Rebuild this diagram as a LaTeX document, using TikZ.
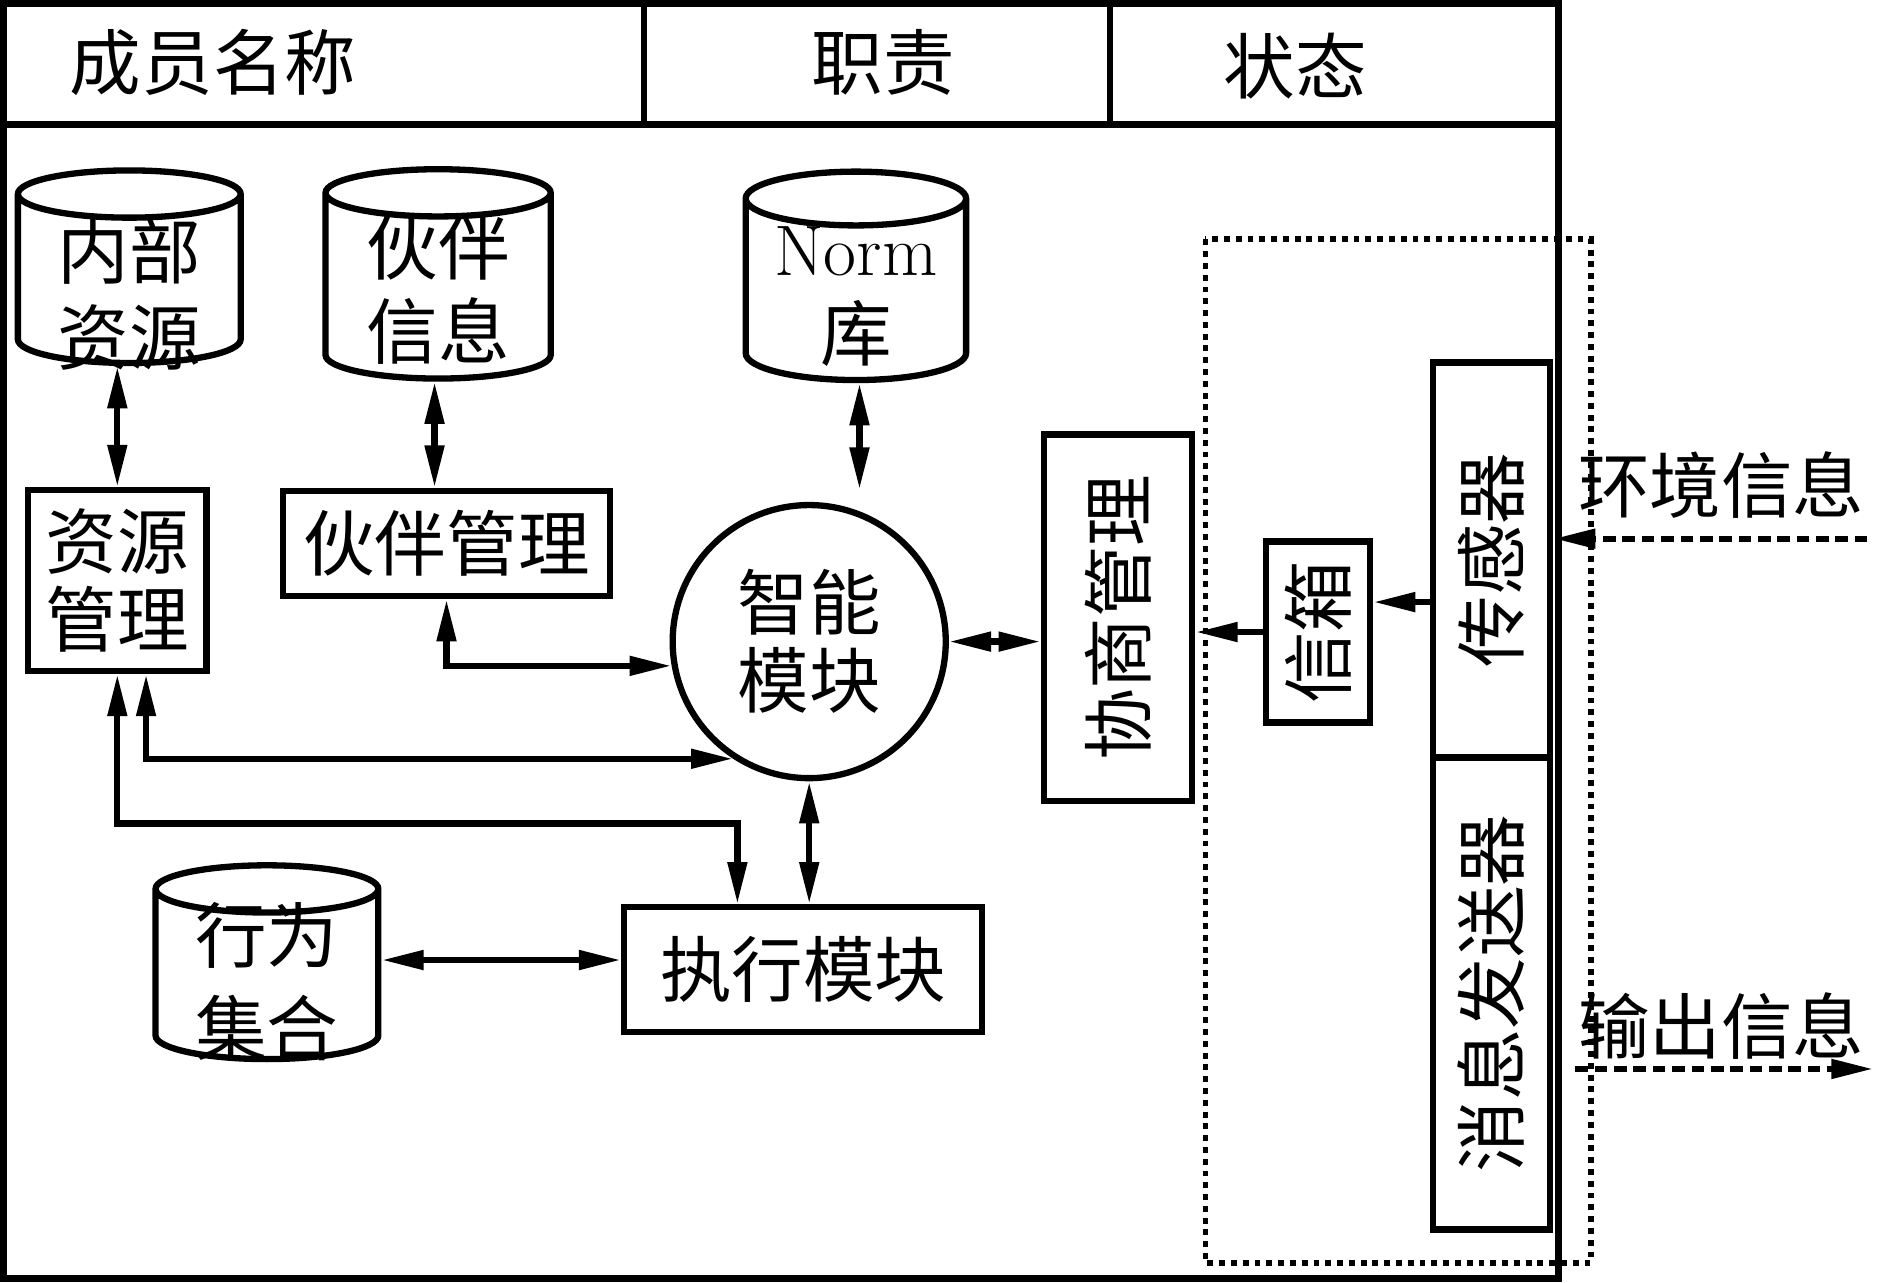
\documentclass[tikz,border=0pt]{standalone}
\usepackage{fontspec}
\usepackage{graphicx}
\newfontfamily\cjk{Noto Sans CJK SC}
\usetikzlibrary{arrows.meta,shapes.geometric}
\newcommand\dbtext[3]{\raisebox{#1}[#2][#2]{\begin{tabular}{@{}c@{}}#3\end{tabular}}}
\begin{document}
\begin{tikzpicture}[x=0.01cm,y=-0.01cm,line width=1.5pt,
  >={Triangle[length=10pt,width=4.4pt]},
  every node/.style={font=\cjk\fontsize{17}{17.8}\selectfont,align=center},
  box/.style={draw,rectangle,inner sep=0pt},
  db/.style={draw,cylinder,shape border rotate=90,aspect=0.33,inner sep=0pt},
  dots/.style={line width=1.4pt,dash pattern=on 1.4pt off 1.4pt},
  dashes/.style={line width=1.5pt,dash pattern=on 3pt off 1.6pt}]
\useasboundingbox (0,0) rectangle (1568,1071);
\draw (3,3) rectangle (1302,1068);
\draw (3,104)--(1302,104);
\draw (538,3)--(538,104);
\draw (927,3)--(927,104);
\node (name) at (178,52) {成员名称};
\node (duty) at (738,52) {职责};
\node (state) at (1082,55) {状态};
\node[db,minimum width=1.86cm] (nbzy) at (108,234) {\dbtext{-0.34cm}{0.495cm}{内部\\[1pt]资源}};
\node[db,minimum width=1.88cm] (hbxx) at (366,240) {\dbtext{-0.24cm}{0.565cm}{伙伴\\信息}};
\node[db,minimum width=1.84cm] (norm) at (715,243) {\dbtext{-0.255cm}{0.52cm}{{\rmfamily Norm}\\[0.6pt]库}};
\node[db,minimum width=1.86cm] (xwjh) at (223,815) {\dbtext{-0.27cm}{0.5cm}{行为\\[2.4pt]集合}};
\node[box,minimum width=1.49cm,minimum height=1.51cm] (zygl) at (98,485) {资源\\[0.8pt]管理};
\node[box,minimum width=2.73cm,minimum height=0.88cm] (hbgl) at (373,454) {伙伴管理};
\node[draw,circle,minimum size=2.28cm,inner sep=0pt] (znmk) at (676,536) {智能\\[0.8pt]模块};
\node[box,minimum width=2.99cm,minimum height=1.04cm] (zxmk) at (671,810) {执行模块};
\node[box,minimum width=1.24cm,minimum height=3.06cm] (xsgl) at (934,516) {\rotatebox{90}{协商管理}};
\node[box,minimum width=0.87cm,minimum height=1.51cm] (xx) at (1101,528) {\rotatebox{90}{信箱}};
\node[box,minimum width=0.98cm,minimum height=3.30cm] (cgq) at (1246,468) {\rotatebox{90}{传感器}};
\node[box,minimum width=0.98cm,minimum height=3.94cm] (fsq) at (1246,830) {\rotatebox{90}{消息发送器}};
\draw[dots] (1007,200) rectangle (1329,1055);
\node (env) at (1438,405) {环境信息};
\node (out) at (1438,857) {输出信息};
\coordinate (nm) at (718,409);
\coordinate (bend) at (616,688);
\coordinate (envin) at (1560,450);
\coordinate (outa) at (1316,893);
\coordinate (outb) at (1565,893);
\draw[<->] (zygl.north) -- (zygl.north |- nbzy.south);
\draw[<->] ([xshift=-0.03cm]hbxx.south) -- ([xshift=-0.03cm]hbxx.south |- hbgl.north);
\draw[<->] (norm.south -| nm) -- (nm);
\draw[<->] (hbgl.south) |- (znmk.190);
\draw[<->] ([xshift=0.24cm]zygl.south) |- (znmk.237);
\draw[<->] (zygl.south) |- (bend) -- (bend |- zxmk.north);
\draw[<->] (znmk.south) -- (znmk.south |- zxmk.north);
\draw[<->] (xwjh.east |- 0,802) -- (zxmk.west |- 0,802);
\draw[<->] (znmk.east) -- (znmk.east -| xsgl.west);
\draw[->] (xx.west) -- (xx.west -| xsgl.east);
\draw[->] ([yshift=0.25cm]xx.east -| cgq.west) -- ([yshift=0.25cm]xx.east);
\draw[->,dashes] (envin) -- (envin -| cgq.east);
\draw[->,dashes] (outa) -- (outb);
\end{tikzpicture}
\end{document}
